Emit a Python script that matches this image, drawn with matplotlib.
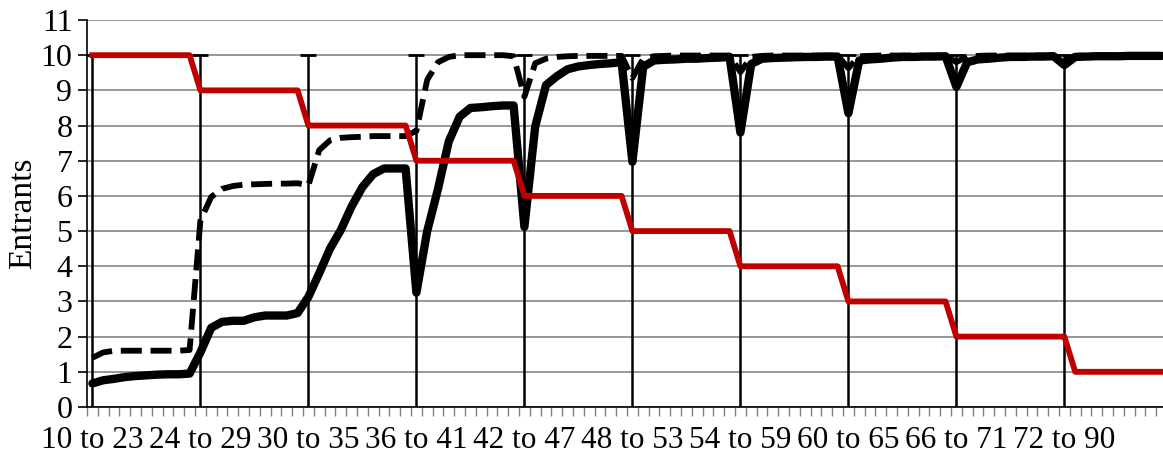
import matplotlib
matplotlib.use('Agg')
import matplotlib.pyplot as plt
import numpy as np

plt.rcParams['font.family'] = ['Liberation Serif', 'DejaVu Serif']

# one label on the first category of each block of ten
group_labels = ['10 to 23', '24 to 29', '30 to 35', '36 to 41', '42 to 47',
                '48 to 53', '54 to 59', '60 to 65', '66 to 71', '72 to 90']
n_categories = 100

# thick solid black series
solid = [0.67, 0.76, 0.80, 0.85, 0.88, 0.90, 0.92, 0.93, 0.93, 0.95,
         1.55, 2.25, 2.42, 2.45, 2.45, 2.55, 2.60, 2.60, 2.60, 2.67,
         3.13, 3.80, 4.50, 5.03, 5.70, 6.25, 6.62, 6.78, 6.78, 6.78,
         3.25, 5.00, 6.20, 7.55, 8.25, 8.50, 8.52, 8.55, 8.57, 8.57,
         5.12, 7.97, 9.15, 9.40, 9.60, 9.68, 9.72, 9.75, 9.77, 9.80,
         6.97, 9.67, 9.85, 9.87, 9.88, 9.90, 9.90, 9.92, 9.93, 9.95,
         7.80, 9.75, 9.90, 9.92, 9.93, 9.94, 9.95, 9.95, 9.96, 9.96,
         8.35, 9.85, 9.88, 9.90, 9.93, 9.95, 9.95, 9.96, 9.96, 9.97,
         9.10, 9.80, 9.88, 9.90, 9.93, 9.95, 9.95, 9.96, 9.96, 9.97,
         9.72, 9.95, 9.96, 9.97, 9.97, 9.97, 9.98, 9.98, 9.98, 9.98]

# dashed black series
dashed = [1.40, 1.55, 1.60, 1.60, 1.60, 1.60, 1.60, 1.60, 1.60, 1.62,
          5.30, 5.97, 6.20, 6.28, 6.32, 6.33, 6.34, 6.35, 6.35, 6.36,
          6.30, 7.30, 7.58, 7.65, 7.67, 7.68, 7.70, 7.70, 7.70, 7.70,
          7.85, 9.30, 9.80, 9.95, 10.0, 10.0, 10.0, 10.0, 10.0, 9.97,
          8.82, 9.77, 9.90, 9.95, 9.97, 9.98, 9.98, 9.98, 9.98, 9.98,
          9.35, 9.90, 9.97, 9.98, 9.99, 9.99, 9.99, 9.99, 9.99, 9.99,
          9.52, 9.95, 9.98, 9.99, 9.99, 9.99, 9.99, 9.99, 9.99, 9.99,
          9.63, 9.97, 9.98, 9.99, 9.99, 9.99, 9.99, 9.99, 9.99, 9.99,
          9.80, 9.97, 9.98, 9.99, 9.99, 9.99, 9.99, 9.99, 9.99, 9.99,
          9.85, 9.98, 9.99, 9.99, 9.99, 9.99, 9.99, 9.99, 9.99, 9.99]

# red step series
red = [10] * 10 + [9] * 10 + [8] * 10 + [7] * 10 + [6] * 10 + \
      [5] * 10 + [4] * 10 + [3] * 10 + [2] * 11 + [1] * 9

# vertical marker lines at the start of each block
marker_cats = [0, 10, 20, 30, 40, 50, 60, 70, 80, 90]
marker_low = 0
marker_high = 10

x = np.arange(n_categories)

fig = plt.figure(figsize=(11.63, 4.62), dpi=100)
ax = fig.add_axes([87 / 1163, 55 / 462, 1080 / 1163, 387 / 462])

ax.vlines(marker_cats, marker_low, marker_high, color='black', lw=1.8, zorder=2)
ax.plot(marker_cats, [marker_high] * len(marker_cats), ls='none', marker='_',
        ms=11, mew=2, color='black', zorder=2)

ax.plot(x, solid, color='black', lw=6, solid_joinstyle='round',
        solid_capstyle='round', zorder=3)
ax.plot(x, dashed, color='black', lw=4.2, dashes=(3.6, 1.5),
        dash_joinstyle='round', zorder=4)
ax.plot(x, red, color='#C00000', lw=4.2, solid_joinstyle='round', zorder=5)

ax.set_xlim(-0.5, n_categories - 0.5)
ax.set_ylim(0, 11)

ax.set_yticks(range(12))
ax.yaxis.grid(True, color='#868686', lw=1.2)
ax.set_axisbelow(True)

ax.set_xticks(marker_cats)
ax.set_xticklabels(group_labels)
ax.set_xticks(np.arange(-0.5, n_categories, 1), minor=True)
ax.tick_params(axis='x', which='major', length=0, pad=14, labelsize=22.5)
ax.tick_params(axis='x', which='minor', length=6.5, width=1, color='#7f7f7f')
ax.tick_params(axis='y', length=6.5, width=1.2, color='black', pad=4, labelsize=23)

for side in ['top', 'right']:
    ax.spines[side].set_visible(False)
for side in ['left', 'bottom']:
    ax.spines[side].set_color('black')
    ax.spines[side].set_linewidth(1.2)

ax.set_ylabel('Entrants', fontsize=24, labelpad=2)

fig.savefig('out.png', dpi=100)
